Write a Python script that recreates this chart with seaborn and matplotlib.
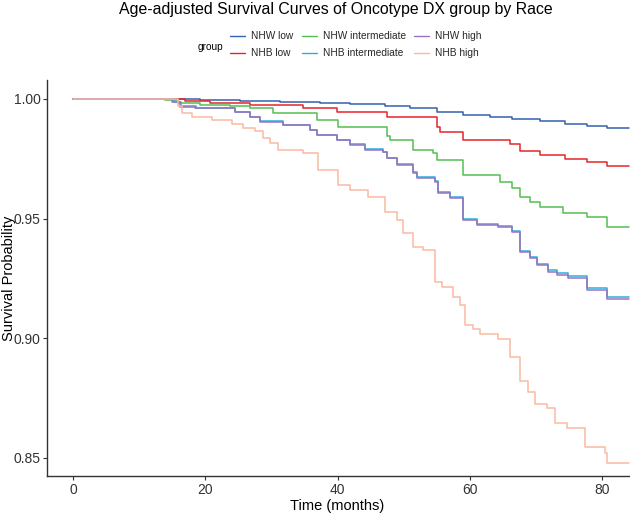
import numpy as np
import pandas as pd
import matplotlib
matplotlib.use("Agg")
import matplotlib.pyplot as plt
from matplotlib.lines import Line2D
import seaborn as sns

GROUPS = ["NHW low", "NHB low", "NHW intermediate", "NHB intermediate", "NHW high", "NHB high"]
COLORS = {
    "NHW low": "#3461AE",
    "NHB low": "#E4262B",
    "NHW intermediate": "#55BE52",
    "NHB intermediate": "#2BB0DE",
    "NHW high": "#9C72C0",
    "NHB high": "#FBB9A2",
}

# step points (months, survival)
nhw_low_t = [0, 15.4, 19.2, 25.2, 31.3, 37.3, 41.9, 47.2, 50.9, 55.0, 59.0, 63.0, 66.4, 70.6, 74.4, 77.7, 80.7, 84]
nhw_low_s = [1.0, 0.9998, 0.9996, 0.9992, 0.9987, 0.9983, 0.9979, 0.9971, 0.9962, 0.9946, 0.9933, 0.9925, 0.9916,
             0.9908, 0.9895, 0.9887, 0.9879, 0.9879]

nhb_low_t = [0, 14.7, 16.9, 20.7, 26.8, 34.8, 39.9, 47.5, 55.0, 55.5, 59.0, 66.1, 67.6, 70.6, 74.4, 77.7, 80.7, 84]
nhb_low_s = [1.0, 1.0, 0.9992, 0.9983, 0.9975, 0.9962, 0.9946, 0.9925, 0.9883, 0.9862, 0.9828, 0.9812, 0.9782,
             0.9766, 0.9749, 0.9736, 0.9720, 0.9720]

nhw_int_t = [0, 12.4, 13.9, 15.9, 19.2, 23.7, 26.8, 30.2, 36.9, 40.1, 47.5, 47.9, 51.4, 54.4, 55.0, 59.0, 64.5,
             66.4, 67.6, 69.1, 70.6, 74.1, 77.7, 80.7, 84]
nhw_int_s = [1.0, 1.0, 0.9996, 0.9983, 0.9975, 0.9971, 0.9962, 0.9941, 0.9912, 0.9883, 0.9845, 0.9828, 0.9787,
             0.9774, 0.9745, 0.9682, 0.9653, 0.9628, 0.9590, 0.9569, 0.9548, 0.9523, 0.9506, 0.9464, 0.9464]

nhw_high_t = [0, 13.2, 15.0, 16.2, 18.4, 24.5, 26.8, 28.3, 31.7, 35.8, 36.9, 39.9, 41.9, 44.1, 46.9, 47.5, 49.0,
              51.4, 52.0, 54.7, 55.2, 57.0, 59.0, 61.1, 64.2, 66.4, 67.6, 69.1, 70.1, 71.8, 73.2, 74.8, 77.7, 80.7, 84]
nhw_high_s = [1.0, 1.0, 0.9987, 0.9967, 0.9962, 0.9946, 0.9925, 0.9904, 0.9891, 0.9870, 0.9849, 0.9828, 0.9808,
              0.9787, 0.9778, 0.9753, 0.9724, 0.9690, 0.9669, 0.9653, 0.9607, 0.9586, 0.9494, 0.9473, 0.9464,
              0.9444, 0.9360, 0.9335, 0.9305, 0.9276, 0.9264, 0.9251, 0.9201, 0.9163, 0.9163]

nhb_int_t = [0, 13.5, 15.2, 16.4, 18.6, 24.5, 26.8, 28.3, 31.7, 35.8, 36.9, 39.9, 41.9, 44.1, 46.9, 47.5, 49.0,
             51.4, 52.0, 54.7, 55.2, 57.0, 59.0, 61.1, 64.2, 66.4, 67.6, 69.1, 70.1, 71.8, 73.2, 74.8, 77.7, 80.7, 84]
nhb_int_s = [1.0, 1.0, 0.9988, 0.9969, 0.9963, 0.9947, 0.9926, 0.9906, 0.9893, 0.9872, 0.9851, 0.9830, 0.9810,
             0.9789, 0.9780, 0.9755, 0.9727, 0.9693, 0.9672, 0.9656, 0.9611, 0.9590, 0.9499, 0.9478, 0.9469,
             0.9450, 0.9366, 0.9341, 0.9312, 0.9283, 0.9272, 0.9259, 0.9209, 0.9171, 0.9171]

nhb_high_t = [0, 13.9, 15.9, 16.5, 18.0, 21.0, 24.0, 25.7, 27.5, 28.7, 29.8, 31.0, 34.8, 37.0, 40.1, 41.9, 44.6,
              47.2, 49.0, 49.9, 51.4, 52.9, 54.7, 55.8, 57.4, 58.5, 59.3, 60.5, 61.5, 64.2, 66.1, 67.6, 68.8,
              69.8, 71.7, 72.9, 74.7, 77.4, 80.4, 80.7, 84]
nhb_high_s = [1.0, 1.0, 0.9971, 0.9941, 0.9925, 0.9912, 0.9895, 0.9879, 0.9866, 0.9837, 0.9816, 0.9787, 0.9774,
              0.9703, 0.9640, 0.9619, 0.9590, 0.9527, 0.9494, 0.9439, 0.9381, 0.9368, 0.9234, 0.9213, 0.9172,
              0.9138, 0.9054, 0.9038, 0.9017, 0.8996, 0.8921, 0.8820, 0.8774, 0.8724, 0.8707, 0.8644, 0.8623,
              0.8544, 0.8519, 0.8477, 0.8477]

series = {
    "NHW low": (nhw_low_t, nhw_low_s),
    "NHB low": (nhb_low_t, nhb_low_s),
    "NHW intermediate": (nhw_int_t, nhw_int_s),
    "NHB intermediate": (nhb_int_t, nhb_int_s),
    "NHW high": (nhw_high_t, nhw_high_s),
    "NHB high": (nhb_high_t, nhb_high_s),
}

frames = [pd.DataFrame({"time": t, "surv": s, "group": g}) for g, (t, s) in series.items()]
df = pd.concat(frames, ignore_index=True)

sns.set_style("white")
plt.rcParams["font.family"] = ["Liberation Sans", "DejaVu Sans"]

fig = plt.figure(figsize=(6.3, 5.13), dpi=100)
ax = fig.add_axes([0.0746, 0.0727, 0.9254, 0.7713])

sns.lineplot(data=df, x="time", y="surv", hue="group", hue_order=GROUPS, palette=COLORS,
             estimator=None, sort=False, drawstyle="steps-post", linewidth=1.1,
             legend=False, ax=ax)

ax.set_xlim(-3.93, 84.2)
ax.set_ylim(0.8425, 1.0079)
ax.set_xticks([0, 20, 40, 60, 80])
ax.set_yticks([0.85, 0.90, 0.95, 1.00])
ax.set_yticklabels(["0.85", "0.90", "0.95", "1.00"])
ax.set_xlabel("Time (months)", fontsize=10.5, color="black", va="center")
ax.set_ylabel("Survival Probability", fontsize=10.5, color="black", va="center")
ax.xaxis.set_label_coords(0.498, -0.077)
ax.yaxis.set_label_coords(-0.066, 0.5)
ax.tick_params(axis="both", labelsize=10, colors="#333333", length=3, width=0.8,
               direction="out", bottom=True, left=True, pad=1.5)
ax.tick_params(axis="x", pad=2)
for side in ["top", "right"]:
    ax.spines[side].set_visible(False)
for side in ["left", "bottom"]:
    ax.spines[side].set_color("#333333")
    ax.spines[side].set_linewidth(1.0)

fig.text(0.533, 0.981, "Age-adjusted Survival Curves of Oncotype DX group by Race",
         ha="center", va="center", fontsize=11.4, color="black")

handles = [Line2D([], [], color=COLORS[g], lw=1.0) for g in GROUPS]
fig.legend(handles, GROUPS, ncol=3, loc="center left", bbox_to_anchor=(0.365, 0.913),
           frameon=False, fontsize=7.3, handlelength=1.5, handletextpad=0.6,
           columnspacing=0.8, labelspacing=0.7, borderpad=0, borderaxespad=0)
fig.text(0.354, 0.908, "group", ha="right", va="center", fontsize=7.3, color="black")

fig.savefig("out.png", dpi=100)
